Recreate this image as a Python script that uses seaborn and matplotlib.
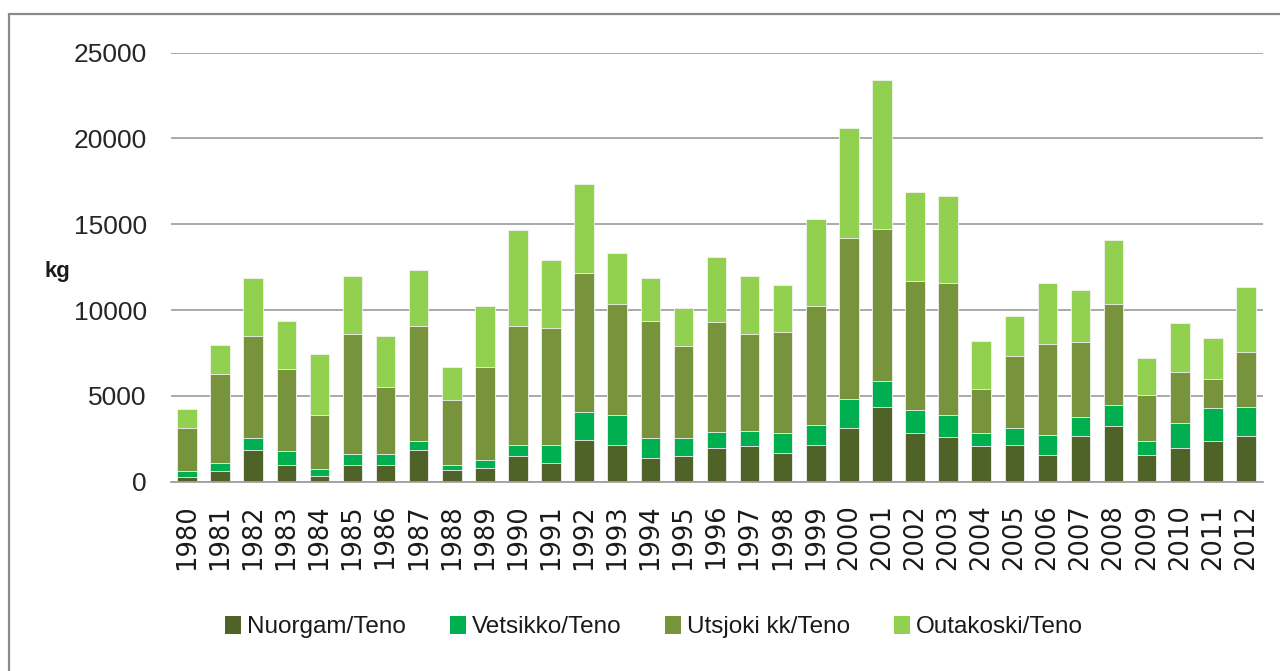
import matplotlib
matplotlib.use("Agg")
import matplotlib.pyplot as plt
import seaborn as sns
import numpy as np
import pandas as pd
from matplotlib.patches import Rectangle, Patch
from matplotlib import font_manager

years = [str(y) for y in range(1980, 2013)]
nuorgam = [300, 620, 1870, 990, 330, 990, 990, 1870, 700, 800, 1480, 1090, 2430, 2140, 1380, 1480, 1965,
           2065, 1675, 2160, 3115, 4360, 2820, 2625, 2065, 2160, 1575, 2650, 3230, 1575, 1965, 2355, 2650]
vetsikko = [320, 490, 660, 780, 390, 610, 610, 485, 300, 485, 660, 1050, 1655, 1750, 1170, 1070, 955,
            875, 1165, 1150, 1730, 1535, 1365, 1265, 775, 970, 1165, 1140, 1245, 780, 1440, 1925, 1725]
utsjoki = [2495, 5175, 5950, 4805, 3170, 7000, 3925, 6730, 3750, 5390, 6945, 6845, 8075, 6440, 6810, 5370, 6360,
           5660, 5855, 6920, 9335, 8850, 7505, 7705, 2585, 4220, 5275, 4340, 5855, 2685, 2995, 1730, 3175]
outakoski = [1145, 1710, 3365, 2785, 3540, 3360, 2955, 3250, 1910, 3555, 5580, 3930, 5190, 2975, 2505, 2215, 3830,
             3360, 2780, 5095, 6440, 8675, 5170, 5075, 2765, 2300, 3560, 3055, 3755, 2195, 2860, 2390, 3825]

series_names = ["Nuorgam/Teno", "Vetsikko/Teno", "Utsjoki kk/Teno", "Outakoski/Teno"]
colors = ["#4f6228", "#00b050", "#77933c", "#92d050"]
y_ticks = [0, 5000, 10000, 15000, 20000, 25000]

sns.set_theme(style="white")
avail = {f.name for f in font_manager.fontManager.ttflist}
if "Liberation Sans Narrow" in avail:
    main_font = "Liberation Sans Narrow"
    ysize, lsize = 21, 19
else:
    main_font = "Liberation Sans"
    ysize, lsize = 19, 17.5
plt.rcParams["font.family"] = [main_font, "DejaVu Sans"]

fig = plt.figure(figsize=(12.8, 6.71), dpi=100)
ax = fig.add_axes([170.5 / 1280, 1 - 481.7 / 671, (1262.5 - 170.5) / 1280, (481.7 - 52.7) / 671])

df = pd.DataFrame({"year": years, "N": nuorgam, "V": vetsikko, "U": utsjoki, "O": outakoski})
cum = df[["N", "V", "U", "O"]].cumsum(axis=1)
layers = ["O", "U", "V", "N"]
layer_colors = {"N": colors[0], "V": colors[1], "U": colors[2], "O": colors[3]}
for key in layers:
    sns.barplot(x=df["year"], y=cum[key], color=layer_colors[key], width=0.59,
                edgecolor="#f2f2f2", linewidth=0.6, saturation=1, ax=ax, order=years)

ax.set_ylim(0, 25000)
ax.set_xlim(-0.5, len(years) - 0.5)
ax.set_yticks(y_ticks)
ax.set_yticklabels([str(t) for t in y_ticks], fontsize=ysize, color="#262626")
ax.set_xticks(range(len(years)))
ax.set_xticklabels(years, rotation=90, fontsize=18.5, family=["DejaVu Sans"], color="#1a1a1a")
ax.tick_params(axis="y", length=0, pad=17)
ax.tick_params(axis="x", length=0, pad=16)
ax.set_xlabel("")
ax.set_ylabel("")
ax.yaxis.grid(True, color="#a3a3a3", linewidth=1.3)
ax.set_axisbelow(True)
for s in ["top", "right", "left"]:
    ax.spines[s].set_visible(False)
ax.spines["bottom"].set_color("#a0a0a0")
ax.spines["bottom"].set_linewidth(1.3)

fig.text(45 / 1280, 1 - 272 / 671, "kg", fontsize=16, fontweight="bold", ha="left", va="center",
         color="#1a1a1a")

handles = [Patch(facecolor=c, edgecolor="none") for c in colors]
leg = fig.legend(handles, series_names, loc="center", bbox_to_anchor=(654 / 1280, 1 - 627 / 671),
                 ncol=4, frameon=False, fontsize=lsize, handlelength=0.65, handleheight=0.8,
                 handletextpad=0.25, columnspacing=1.8)
for t in leg.get_texts():
    t.set_color("#1a1a1a")

fig.add_artist(Rectangle((9 / 1280, -0.05), 1.2, 1 - 14 / 671 + 0.05, transform=fig.transFigure,
                         fill=False, edgecolor="#8a8a8a", linewidth=1.6, clip_on=False))

fig.savefig("out.png", dpi=100)
